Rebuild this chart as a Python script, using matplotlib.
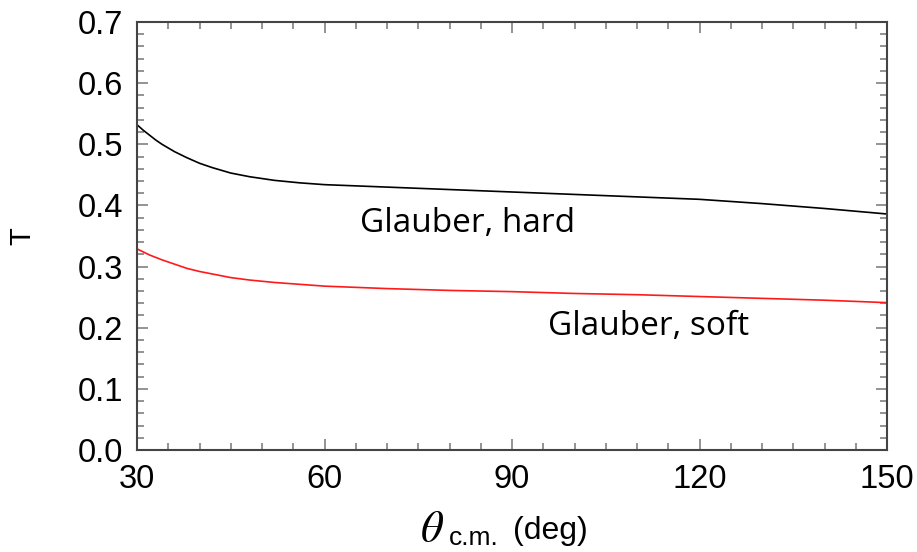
import matplotlib.pyplot as plt
from matplotlib.ticker import MultipleLocator

# angle (deg) and T for the two Glauber curves
theta = [30, 31, 32, 33, 34, 36, 38, 40, 42, 45, 48, 52, 56, 60, 70, 80,
         90, 100, 110, 120, 130, 140, 150]
t_hard = [0.532, 0.523, 0.515, 0.507, 0.500, 0.488, 0.478, 0.469, 0.462,
          0.453, 0.447, 0.441, 0.437, 0.434, 0.430, 0.426, 0.422, 0.418,
          0.414, 0.410, 0.403, 0.395, 0.386]
t_soft = [0.329, 0.324, 0.319, 0.315, 0.311, 0.304, 0.297, 0.292, 0.288,
          0.282, 0.278, 0.274, 0.271, 0.268, 0.264, 0.261, 0.259, 0.256,
          0.254, 0.251, 0.248, 0.245, 0.241]
xticks = [30, 60, 90, 120, 150]
yticks = [0.0, 0.1, 0.2, 0.3, 0.4, 0.5, 0.6, 0.7]

fig = plt.figure(figsize=(9.17, 5.52), dpi=100)
ax = fig.add_axes([0.1494, 0.1848, 0.8179, 0.7753])

ax.plot(theta, t_hard, color="black", lw=1.2, solid_joinstyle="round")
ax.plot(theta, t_soft, color="#ff1a1a", lw=1.2, solid_joinstyle="round")

ax.set_xlim(30, 150)
ax.set_ylim(0, 0.7)
ax.set_xticks(xticks)
ax.set_yticks(yticks)
ax.set_yticklabels(["%.1f" % v for v in yticks])
ax.xaxis.set_minor_locator(MultipleLocator(5))
ax.yaxis.set_minor_locator(MultipleLocator(0.02))
ax.tick_params(which="both", direction="in", top=True, right=True,
               color="#808080", width=1.2)
ax.tick_params(which="major", length=8, labelsize=23.5, pad=10)
ax.tick_params(which="minor", length=5)
for lab in ax.get_xticklabels() + ax.get_yticklabels():
    lab.set_family("Liberation Sans")
for s in ax.spines.values():
    s.set_color("#444444")
    s.set_linewidth(1.5)

ax.text(65.7, 0.357, "Glauber, hard", fontsize=24, family="Open Sans",
        va="baseline")
ax.text(95.8, 0.188, "Glauber, soft", fontsize=24, family="Open Sans",
        va="baseline")

fig.text(0.024, 0.572, "T", fontsize=21, family="Liberation Sans",
         rotation=90, va="center", ha="center")
fig.text(0.458, 0.018, r"$\theta$", fontsize=32, math_fontfamily="stix",
         va="baseline")
fig.text(0.490, 0.012, "c.m.", fontsize=19, family="Liberation Sans",
         va="baseline")
fig.text(0.559, 0.024, "(deg)", fontsize=23, family="Liberation Sans",
         va="baseline")

fig.savefig("out.png", dpi=100)
